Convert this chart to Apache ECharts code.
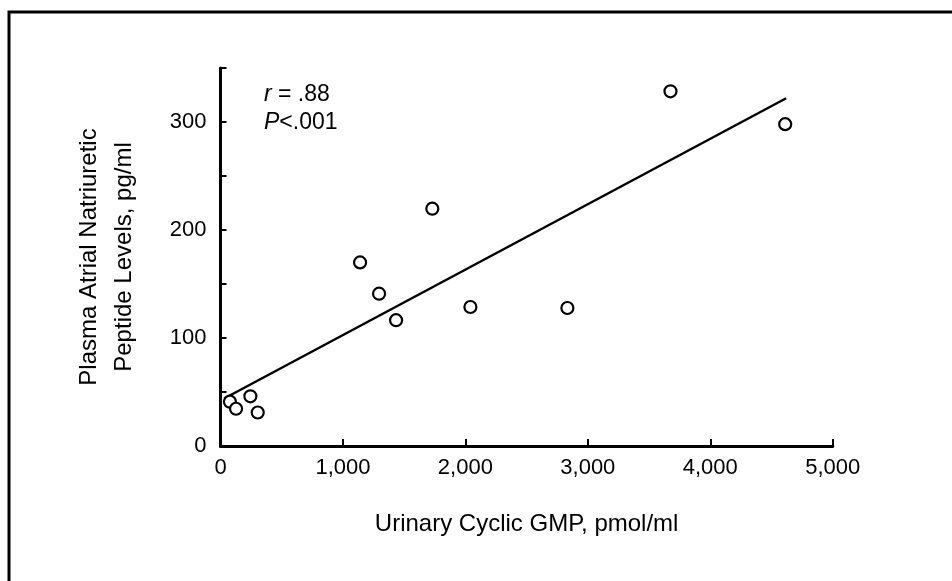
<!DOCTYPE html>
<html>
<head>
<meta charset="utf-8">
<script src="https://cdn.jsdelivr.net/npm/echarts@6/dist/echarts.min.js"></script>
<style>
  html, body { margin: 0; padding: 0; background: #fff; }
  #chart { width: 952px; height: 581px; }
</style>
</head>
<body>
<div id="chart"></div>
<script>
// urinary cyclic GMP (pmol/ml) vs plasma ANP (pg/ml)
const cgmp = [77, 127, 244, 304, 1140, 1295, 1434, 1730, 2041, 2833, 3675, 4612];
const anp = [41, 34.5, 46, 31, 170, 141, 116.5, 219.7, 128.7, 127.8, 328.4, 298];

// regression line end points
const fitX = [30, 4620];
const fitY = [44, 322];

const xTicks = [0, 1000, 2000, 3000, 4000, 5000];
const yTicks = [0, 100, 200, 300];

const FONT = "'Liberation Sans', Arial, sans-serif";

const chart = echarts.init(document.getElementById("chart"));

const option = {
  animation: false,
  backgroundColor: "#fff",
  grid: {
    left: 220.5,
    right: 119.3,
    top: 68,
    bottom: 135,
    containLabel: false,
  },
  xAxis: {
    type: "value",
    min: 0,
    max: 5000,
    interval: 1000,
    name: "Urinary Cyclic GMP, pmol/ml",
    nameLocation: "middle",
    nameGap: 66,
    nameTextStyle: { fontFamily: FONT, fontSize: 24, color: "#000" },
    axisLine: { show: true, lineStyle: { color: "#000", width: 3 } },
    axisTick: { show: true, inside: true, length: 7, lineStyle: { color: "#000", width: 2 } },
    axisLabel: {
      margin: 11,
      fontFamily: FONT,
      fontSize: 22,
      color: "#000",
      formatter: (v) => (xTicks.includes(v) ? v.toLocaleString("en-US") : ""),
    },
    splitLine: { show: false },
  },
  yAxis: {
    type: "value",
    min: 0,
    max: 350,
    interval: 50,
    name: "Plasma Atrial Natriuretic\nPeptide Levels, pg/ml",
    nameLocation: "middle",
    nameRotate: 90,
    nameGap: 79,
    nameTextStyle: { fontFamily: FONT, fontSize: 24, color: "#000", lineHeight: 35 },
    axisLine: { show: true, lineStyle: { color: "#000", width: 3 } },
    axisTick: { show: true, inside: true, length: 6, lineStyle: { color: "#000", width: 2 } },
    axisLabel: {
      margin: 14,
      fontFamily: FONT,
      fontSize: 22,
      color: "#000",
      formatter: (v) => (yTicks.includes(v) ? String(v) : ""),
    },
    splitLine: { show: false },
  },
  graphic: [
    {
      type: "polyline",
      shape: { points: [[9, 600], [9, 12], [970, 12]] },
      style: { stroke: "#000", lineWidth: 3, fill: null },
    },
    {
      type: "text",
      left: 264,
      top: 83,
      style: {
        text: "{i|r} = .88",
        font: "23px " + FONT,
        fill: "#000",
        rich: { i: { fontStyle: "italic", fontSize: 23, fontFamily: FONT } },
      },
    },
    {
      type: "text",
      left: 264,
      top: 111,
      style: {
        text: "{i|P}<.001",
        font: "23px " + FONT,
        fill: "#000",
        rich: { i: { fontStyle: "italic", fontSize: 23, fontFamily: FONT } },
      },
    },
  ],
  series: [
    {
      name: "Regression",
      type: "line",
      data: fitX.map((x, i) => [x, fitY[i]]),
      symbol: "none",
      lineStyle: { color: "#000", width: 2.5 },
      z: 2,
    },
    {
      name: "Patients",
      type: "scatter",
      data: cgmp.map((x, i) => [x, anp[i]]),
      symbol: "circle",
      symbolSize: 12,
      itemStyle: { color: "#fff", borderColor: "#000", borderWidth: 2.2, opacity: 1 },
      z: 3,
    },
  ],
};

chart.setOption(option);
window.addEventListener("resize", () => chart.resize());
</script>
</body>
</html>
